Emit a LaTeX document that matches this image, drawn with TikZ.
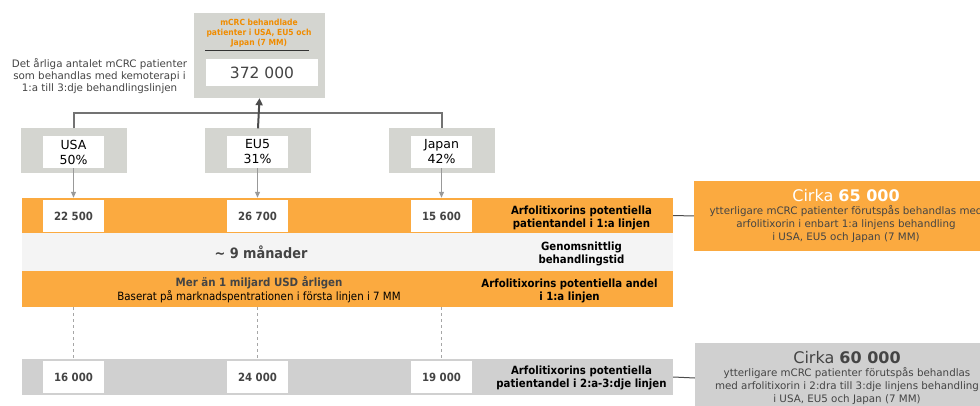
\documentclass[tikz,border=0pt]{standalone}
\usepackage{fontspec}
\setmainfont{DejaVu Sans}
\newfontfamily\condfont{DejaVu Sans Condensed}
\usepackage{tikz}
\usetikzlibrary{arrows.meta}

\definecolor{bandorange}{RGB}{251,170,64}
\definecolor{titleorange}{RGB}{240,140,0}
\definecolor{boxgray}{RGB}{212,213,208}
\definecolor{bandgray}{RGB}{208,208,208}
\definecolor{bandlight}{RGB}{244,244,244}
\definecolor{txtgray}{RGB}{68,68,68}

\tikzset{
  graybox/.style={fill=boxgray, inner sep=0pt, minimum width=106pt, minimum height=45pt},
  countrybox/.style={fill=white, inner sep=0pt, minimum width=61pt, minimum height=32pt,
    align=center, font=\fontsize{12.5}{15}\selectfont},
  numbox/.style={fill=white, inner sep=0pt, minimum width=61pt, minimum height=32pt,
    font=\condfont\bfseries\fontsize{11.3}{13}\selectfont, text=txtgray},
  band/.style={inner sep=0pt, minimum width=651pt},
  bandlabel/.style={align=center, font=\condfont\bfseries\fontsize{11.3}{12.8}\selectfont},
  gainbox/.style={inner sep=0pt, minimum width=304pt, minimum height=70pt, align=center,
    font=\fontsize{10.3}{12.8}\selectfont, text=txtgray},
}

\begin{document}
\begin{tikzpicture}[x=1pt, y=-1pt]
        \useasboundingbox (0,0) rectangle (980,406);
        \clip (0,0) rectangle (980,406);

        % Define the total box
        \node[fill=boxgray, inner sep=0pt, minimum width=131pt, minimum height=85pt] (total) at (259.5,55.5) {};
        \node[align=center, text=titleorange, font=\condfont\bfseries\fontsize{8.4}{9.8}\selectfont] (title) at (259,33) {mCRC behandlade\\patienter i USA, EU5 och\\Japan (7 MM)};
        \coordinate (ruleL) at (205,51);
        \coordinate (ruleR) at (309,51);
        \draw[black!80, line width=1pt] (ruleL) -- (ruleR);
        \node[fill=white, inner sep=0pt, minimum width=112pt, minimum height=27pt, text=txtgray, font=\fontsize{15.5}{18}\selectfont] (sum) at (262,72.5) {372 000};
        \node[align=center, text=txtgray, font=\fontsize{10.3}{12.3}\selectfont] (note) at (99.5,76) {Det årliga antalet mCRC patienter\\som behandlas med kemoterapi i\\1:a till 3:dje behandlingslinjen};

        % Define the countries
        \node[graybox] (usabox) at (74,151) {};
        \node[graybox] (eubox) at (258,151) {};
        \node[graybox] (japanbox) at (442,151) {};
        \node[countrybox] (usa) at (73.5,152) {USA\\50\%};
        \node[countrybox] (eu) at (257.5,152) {EU5\\31\%};
        \node[countrybox] (japan) at (441.5,152) {Japan\\42\%};

        % Define the bands
        \node[band, fill=bandorange, minimum height=35pt] (band1) at (347.5,215.5) {};
        \node[band, fill=bandlight, minimum height=38pt] (band2) at (347.5,252) {};
        \node[band, fill=bandorange, minimum height=36pt] (band3) at (347.5,289) {};
        \node[band, fill=bandgray, minimum height=36pt] (band4) at (347.5,377) {};

        \node[numbox] (usa1) at (73.5,216) {22 500};
        \node[numbox] (eu1) at (257.5,216) {26 700};
        \node[numbox] (japan1) at (441.5,216) {15 600};
        \node[bandlabel] (label1) at (581.5,218) {Arfolitixorins potentiella\\patientandel i 1:a linjen};

        \node[text=txtgray, font=\condfont\bfseries\fontsize{14.3}{16}\selectfont] (months) at (261,252) {\textasciitilde\ 9 månader};
        \node[bandlabel] (label2) at (581.5,254) {Genomsnittlig\\behandlingstid};

        \node[align=center, text=txtgray, font=\condfont\fontsize{11.4}{13.8}\selectfont] (revenue) at (259,290) {{\bfseries Mer än 1 miljard USD årligen}\\{\color{black}Baserat på marknadspentrationen i första linjen i 7 MM}};
        \node[bandlabel] (label3) at (569.5,291) {Arfolitixorins potentiella andel\\i 1:a linjen};

        \node[numbox] (usa2) at (73.5,377) {16 000};
        \node[numbox] (eu2) at (257.5,377) {24 000};
        \node[numbox] (japan2) at (441.5,377) {19 000};
        \node[bandlabel] (label4) at (581.5,378) {Arfolitixorins potentiella\\patientandel i 2:a-3:dje linjen};

        % Define the summary boxes
        \node[gainbox, fill=bandorange] (gain1) at (846,216) {{\color{white}\fontsize{16}{19}\selectfont Cirka \textbf{65 000}}\\ytterligare mCRC patienter förutspås behandlas med\\arfolitixorin i enbart 1:a linjens behandling\\i USA, EU5 och Japan (7 MM)};
        \node[gainbox, fill=bandgray] (gain2) at (847,378) {{\fontsize{16}{19}\selectfont Cirka \textbf{60 000}}\\ytterligare mCRC patienter förutspås behandlas\\med arfolitixorin i 2:dra till 3:dje linjens behandling\\i USA, EU5 och Japan (7 MM)};

        % Define the edges
        \coordinate (hub) at (260,113);
        \draw[black!55, line width=1.3pt] (usabox.north) |- (hub) -| (japanbox.north);
        \draw[black!70, line width=2pt, -{Triangle[length=7pt, width=7pt]}] (eubox.north) -- (total.south);
        \draw[black!40, line width=1pt, -{Triangle[length=6pt, width=5pt]}] (usa.south) -- (usa.south |- band1.north);
        \draw[black!40, line width=1pt, -{Triangle[length=6pt, width=5pt]}] (eu.south) -- (eu.south |- band1.north);
        \draw[black!40, line width=1pt, -{Triangle[length=6pt, width=5pt]}] (japan.south) -- (japan.south |- band1.north);
        \draw[black!35, dashed] (usa2.north |- band3.south) -- (usa2.north |- band4.north);
        \draw[black!35, dashed] (eu2.north |- band3.south) -- (eu2.north |- band4.north);
        \draw[black!35, dashed] (japan2.north |- band3.south) -- (japan2.north |- band4.north);
        \draw[black!70, line width=1pt] (band1.east) -- (gain1.west);
        \draw[black!70, line width=1pt] (band4.east) -- (gain2.west);
    \end{tikzpicture}
\end{document}
